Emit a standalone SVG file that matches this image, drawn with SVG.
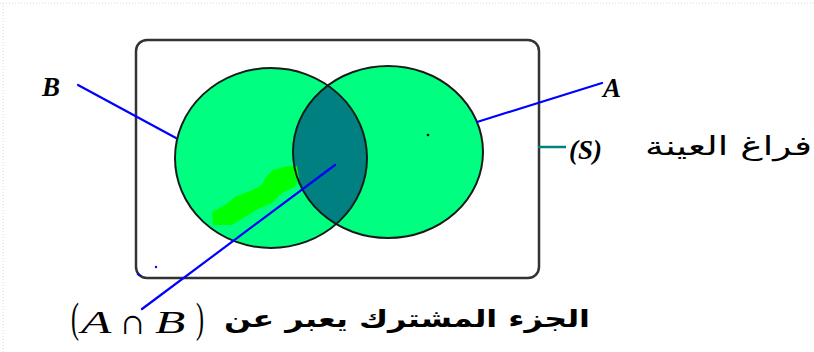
<svg xmlns="http://www.w3.org/2000/svg" width="814" height="352" viewBox="0 0 814 352">
<style>
.bg{fill:#ffffff}
.frame{fill:none;stroke:#d8d8d8;stroke-width:1;stroke-dasharray:1 2}
.sample{fill:#ffffff;stroke:#333333;stroke-width:2.5}
.setfill{fill:#00ff80}
.lens{fill:#008080}
.edge{fill:none;stroke:#1a1a1a;stroke-width:2}
.blob{fill:#00ff00}
.ptr{stroke:#0000ff;stroke-width:2.2;fill:none;stroke-linecap:round}
.ptrS{stroke:#008080;stroke-width:2.5;fill:none}
.lbl{font-family:"Liberation Serif",serif;font-weight:bold;font-style:italic;font-size:27px;fill:#000}
.math{font-family:"Liberation Serif",serif;font-style:italic;font-size:31px;fill:#000}
.par{font-family:"Liberation Serif",serif;font-size:30px;fill:#000}
.ar{font-family:"DejaVu Sans",sans-serif;fill:#000}
</style>
<defs>
<clipPath id="clipB"><ellipse cx="271" cy="158" rx="96" ry="90"/></clipPath>
</defs>
<rect class="bg" x="0" y="0" width="814" height="352"/>
<line class="frame" x1="0" y1="3" x2="814" y2="3"/>
<line class="frame" x1="3" y1="3" x2="3" y2="352"/>

<g id="sample-space">
<rect class="sample" x="136" y="40" width="403" height="238" rx="11" ry="11"/>
<circle cx="156" cy="267" r="1.2" fill="#0000ff"/>
<path d="M137 274 L141 276" stroke="#0000ff" stroke-width="1.5"/>
</g>

<g id="set-B">
<ellipse class="setfill" cx="271" cy="158" rx="96" ry="90"/>
</g>
<g id="set-A">
<ellipse class="setfill" cx="388" cy="152" rx="95" ry="86"/>
<circle cx="428" cy="135" r="1.3" fill="#000"/>
</g>
<g id="intersection">
<ellipse class="lens" cx="388" cy="152" rx="95" ry="86" clip-path="url(#clipB)"/>
</g>
<path class="blob" d="M212 212 L225 205 L235 197 L250 191 L262 185 L266 177 L273 170 L288 166 L297 166 L299 178 L295 187 L282 193 L272 203 L258 209 L245 217 L232 225 L213 225 Z"/>
<g id="outlines">
<ellipse class="edge" cx="271" cy="158" rx="96" ry="90"/>
<ellipse class="edge" cx="388" cy="152" rx="95" ry="86"/>
</g>

<g id="connectors">
<line class="ptr" x1="78" y1="85" x2="176" y2="138"/>
<line class="ptr" x1="477" y1="122" x2="602" y2="83"/>
<line class="ptr" x1="335" y1="165" x2="142" y2="309"/>
<line class="ptrS" x1="538" y1="147" x2="566" y2="147"/>
</g>

<g id="label-B"><text class="lbl" x="42" y="96">B</text></g>
<g id="label-A"><text class="lbl" x="603" y="97">A</text></g>
<g id="label-S">
<text class="lbl" x="569" y="159">(S)</text>
<text class="ar" x="812" y="155" text-anchor="end" textLength="167" lengthAdjust="spacingAndGlyphs" style="font-size:26px">فراغ العينة</text>
</g>
<g id="label-AB">
<text class="par" transform="translate(71,332) scale(0.8,1.4)">(</text>
<text class="math" transform="translate(81,333) scale(1.6,1)">A</text>
<text class="par" transform="translate(119,334) scale(1.05,1)" style="font-size:36px">∩</text>
<text class="math" transform="translate(155,333) scale(1.6,1)">B</text>
<text class="par" transform="translate(196,332) scale(0.8,1.4)">)</text>
<text class="ar" x="590" y="327" text-anchor="end" textLength="366" lengthAdjust="spacingAndGlyphs" style="font-size:24px;font-weight:bold">الجزء المشترك يعبر عن</text>
</g>
</svg>
